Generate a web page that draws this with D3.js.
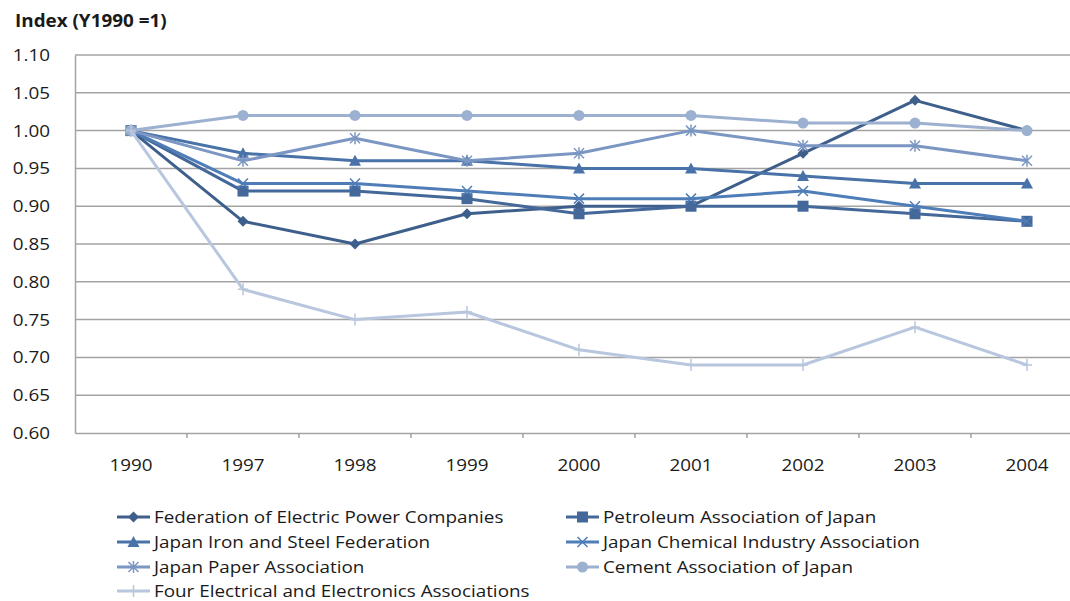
<!DOCTYPE html>
<html><head><meta charset="utf-8">
<script src="https://cdn.jsdelivr.net/npm/d3@7"></script>
<style>body{margin:0;background:#fff;} svg{display:block;font-family:"Open Sans",sans-serif;}</style>
</head><body><svg id="c" width="1070" height="601"></svg>
<script>
const years = ["1990","1997","1998","1999","2000","2001","2002","2003","2004"];
const yTicks = [0.60,0.65,0.70,0.75,0.80,0.85,0.90,0.95,1.00,1.05,1.10];
const seriesNames = ["Federation of Electric Power Companies","Petroleum Association of Japan","Japan Iron and Steel Federation","Japan Chemical Industry Association","Japan Paper Association","Cement Association of Japan","Four Electrical and Electronics Associations"];
const electric = [1.00,0.88,0.85,0.89,0.90,0.90,0.97,1.04,1.00];
const petroleum = [1.00,0.92,0.92,0.91,0.89,0.90,0.90,0.89,0.88];
const ironSteel = [1.00,0.97,0.96,0.96,0.95,0.95,0.94,0.93,0.93];
const chemical = [1.00,0.93,0.93,0.92,0.91,0.91,0.92,0.90,0.88];
const paper = [1.00,0.96,0.99,0.96,0.97,1.00,0.98,0.98,0.96];
const cement = [1.00,1.02,1.02,1.02,1.02,1.02,1.01,1.01,1.00];
const fourElec = [1.00,0.79,0.75,0.76,0.71,0.69,0.69,0.74,0.69];

const values = [electric,petroleum,ironSteel,chemical,paper,cement,fourElec];
const colors = ["#3e5f8b","#44689a","#4872a8","#4f7db8","#7b96c2","#9cb0d0","#b8c6de"];
const markers = ["diamond","square","triangle","x","asterisk","circle","plus"];

const SX = 1.11, FS = 17;
const svg = d3.select("#c");
const L=75, R=1083, T=55, B=433;
const x = d3.scaleBand().domain(years).range([L,R]).padding(0);
const cx = d => x(d)+x.bandwidth()/2;
const y = d3.scaleLinear().domain([0.60,1.10]).range([B,T]);

function label(g, tx, ty, str, anchor, opts={}){
  return g.append("text").attr("transform",`translate(${tx},${ty}) scale(${SX},1)`)
    .attr("text-anchor",anchor).attr("font-size",opts.fs||FS)
    .attr("font-weight",opts.fw||"normal").attr("fill","#1a1a1a").text(str);
}

// gridlines
svg.append("g").selectAll("line").data(yTicks.filter(t=>t>0.6)).join("line")
  .attr("x1",L).attr("x2",R).attr("y1",d=>y(d)).attr("y2",d=>y(d))
  .attr("stroke","#a3a3a3").attr("stroke-width",1.5);

// y axis
const ya = svg.append("g").attr("transform",`translate(${L},0)`).call(d3.axisLeft(y).tickValues(yTicks).tickFormat(d3.format(".2f")).tickSize(0));
ya.select(".domain").attr("stroke","#a3a3a3").attr("stroke-width",1.5);
ya.selectAll(".tick text").remove();
const yl = svg.append("g");
yTicks.forEach(t=>label(yl, 50, y(t)+6, d3.format(".2f")(t), "end"));

// x axis
const xa = svg.append("g").attr("transform",`translate(0,${B})`).call(d3.axisBottom(x).tickSize(0));
xa.select(".domain").attr("stroke","#a3a3a3").attr("stroke-width",1.5);
xa.selectAll(".tick text").remove();
const xl = svg.append("g");
years.forEach(yr=>label(xl, cx(yr), 471, yr, "middle"));
svg.append("g").selectAll("line").data(years.slice(1)).join("line")
  .attr("x1",d=>x(d)).attr("x2",d=>x(d)).attr("y1",B).attr("y2",B+5)
  .attr("stroke","#a3a3a3").attr("stroke-width",1.5);

// title
label(svg, 15, 27, "Index (Y1990 =1)", "start", {fs:FS, fw:"bold"});

function drawMarker(g, type, px, py, color){
  const s = 5.5;
  if(type==="diamond"){
    g.append("path").attr("d",`M${px},${py-s}L${px+s},${py}L${px},${py+s}L${px-s},${py}Z`).attr("fill",color);
  } else if(type==="square"){
    g.append("rect").attr("x",px-5.5).attr("y",py-5.5).attr("width",11).attr("height",11).attr("fill",color);
  } else if(type==="triangle"){
    g.append("path").attr("d",`M${px},${py-6}L${px+6},${py+5}L${px-6},${py+5}Z`).attr("fill",color);
  } else if(type==="x"){
    g.append("path").attr("d",`M${px-5},${py-5}L${px+5},${py+5}M${px-5},${py+5}L${px+5},${py-5}`).attr("stroke",color).attr("stroke-width",1.5);
  } else if(type==="asterisk"){
    g.append("path").attr("d",`M${px-5},${py-5}L${px+5},${py+5}M${px-5},${py+5}L${px+5},${py-5}M${px},${py-6}L${px},${py+6}`).attr("stroke",color).attr("stroke-width",1.5);
  } else if(type==="circle"){
    g.append("circle").attr("cx",px).attr("cy",py).attr("r",5.5).attr("fill",color);
  } else if(type==="plus"){
    g.append("path").attr("d",`M${px-5},${py}L${px+5},${py}M${px},${py-6}L${px},${py+6}`).attr("stroke",color).attr("stroke-width",1.5);
  }
}

const line = d3.line().x((d,i)=>cx(years[i])).y(d=>y(d));
values.forEach((vals,si)=>{
  const g = svg.append("g");
  g.append("path").datum(vals).attr("d",line).attr("fill","none")
    .attr("stroke",colors[si]).attr("stroke-width",3).attr("stroke-linejoin","round");
  vals.forEach((v,i)=>drawMarker(g, markers[si], cx(years[i]), y(v), colors[si]));
});

// legend
const legPos = [[117,517],[566,517],[117,542],[566,542],[117,567],[566,567],[117,591]];
seriesNames.forEach((n,i)=>{
  const [lx,ly] = legPos[i];
  const g = svg.append("g");
  g.append("line").attr("x1",lx).attr("x2",lx+33).attr("y1",ly).attr("y2",ly).attr("stroke",colors[i]).attr("stroke-width",3);
  drawMarker(g, markers[i], lx+16.5, ly, colors[i]);
  label(g, lx+37, ly+5.5, n, "start");
});
</script></body></html>
